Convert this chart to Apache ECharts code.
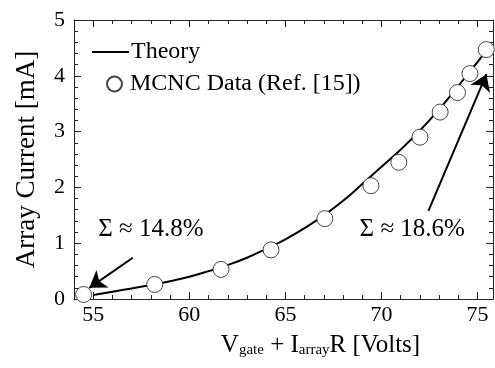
<!DOCTYPE html>
<html><head><meta charset="utf-8">
<script src="https://cdn.jsdelivr.net/npm/echarts@6/dist/echarts.min.js"></script>
<style>html,body{margin:0;padding:0;background:#fff}#c{width:495px;height:368px}</style>
</head><body><div id="c"></div>
<script>
// ---- data ----
const xTickLabels = [55, 60, 65, 70, 75];
const yTickLabels = [0, 1, 2, 3, 4, 5];
const mcncX = [54.5, 58.2, 61.65, 64.25, 67.05, 69.45, 70.9, 72.0, 73.05, 73.95, 74.6, 75.45];
const mcncY = [0.08, 0.26, 0.53, 0.88, 1.44, 2.03, 2.45, 2.90, 3.35, 3.70, 4.04, 4.47];
const theoryX = [55, 56, 57, 58, 59, 60, 61, 62, 63, 64, 65, 66, 67, 68, 69, 70, 71, 72, 73, 74, 75, 75.5];
const theoryY = [0.07, 0.13, 0.19, 0.25, 0.32, 0.40, 0.50, 0.61, 0.74, 0.90, 1.07, 1.27, 1.50, 1.76, 2.06, 2.37, 2.68, 3.02, 3.40, 3.82, 4.25, 4.47];
const noteLabels = ['Σ ≈ 14.8%', 'Σ ≈ 18.6%'];
const noteTextAt = [[58.0, 1.25], [71.6, 1.25]];
const arrowFrom = [[57.06, 0.74], [72.44, 1.58]];
const arrowTo = [[54.80, 0.20], [75.46, 4.03]];
const seriesNames = ['Theory', 'MCNC Data (Ref. [15])'];

const FONT = 'Liberation Serif';
const chart = echarts.init(document.getElementById('c'), null, {renderer: 'canvas'});
const X_MIN = 54, X_MAX = 75.8, Y_MIN = 0, Y_MAX = 5;
const axisCol = '#222';

function xAx(pos, major, showLabel) {
  return {
    type: 'value', position: pos, min: X_MIN, max: X_MAX,
    interval: 1,
    axisLine: {show: major, onZero: false, lineStyle: {color: axisCol, width: 1}},
    axisTick: major ? {show: true, inside: true, length: 7, customValues: xTickLabels, lineStyle: {color: axisCol}}
                    : {show: true, inside: true, length: 4, lineStyle: {color: axisCol}},
    axisLabel: showLabel ? {show: true, customValues: xTickLabels, color: '#000', fontFamily: FONT, fontSize: 22, margin: 5}
                         : {show: false},
    splitLine: {show: false}
  };
}
function yAx(pos, showLabel) {
  return {
    type: 'value', position: pos, min: Y_MIN, max: Y_MAX, interval: 1,
    axisLine: {show: true, onZero: false, lineStyle: {color: axisCol, width: 1}},
    axisTick: {show: true, inside: true, length: 7, lineStyle: {color: axisCol}},
    minorTick: {show: true, splitNumber: 5, length: 4, lineStyle: {color: axisCol}},
    axisLabel: showLabel ? {show: true, color: '#000', fontFamily: FONT, fontSize: 22, margin: 9} : {show: false},
    splitLine: {show: false}
  };
}

const xMain = xAx('bottom', true, true);
xMain.name = '{n|V}{s|gate}{n| + I}{s|array}{n|R [Volts]}';
xMain.nameLocation = 'middle';
xMain.nameGap = 33;
xMain.nameTextStyle = {
  color: '#000', fontFamily: FONT, padding: [0, 0, 0, 74],
  rich: {
    n: {fontFamily: FONT, fontSize: 25, color: '#000', lineHeight: 26, verticalAlign: 'bottom'},
    s: {fontFamily: FONT, fontSize: 15, color: '#000', lineHeight: 4, verticalAlign: 'bottom'}
  }
};
const yMain = yAx('left', true);
yMain.name = 'Array Current [mA]';
yMain.nameLocation = 'middle';
yMain.nameGap = 34;
yMain.nameTextStyle = {color: '#000', fontFamily: FONT, fontSize: 27, padding: [0, 0, 0, 0]};

const legendText = {fontFamily: FONT, fontSize: 24, color: '#000'};
const option = {
  animation: false,
  backgroundColor: '#fff',
  grid: {left: 74, right: 2, top: 20, bottom: 69, containLabel: false},
  xAxis: [xMain, xAx('bottom', false, false), xAx('top', true, false), xAx('top', false, false)],
  yAxis: [yMain, yAx('right', false)],
  legend: [
    {data: [{name: seriesNames[0], icon: 'path://M0,0H40V2.2H0Z'}], left: 92, top: 40, padding: 0, orient: 'vertical',
     itemWidth: 37, itemHeight: 14, itemGap: 0, selectedMode: false,
     textStyle: Object.assign({padding: [0, 0, 0, -3]}, legendText)},
    {data: [{name: seriesNames[1], icon: 'circle'}], left: 106, top: 72, padding: 0, orient: 'vertical',
     itemWidth: 15, itemHeight: 15, itemGap: 0, selectedMode: false,
     textStyle: Object.assign({padding: [0, 0, 0, 3]}, legendText)}
  ],
  series: [
    {
      name: seriesNames[0], type: 'line', xAxisIndex: 0, yAxisIndex: 0,
      data: theoryX.map((x, i) => [x, theoryY[i]]),
      smooth: true, showSymbol: false, symbol: 'none',
      lineStyle: {color: '#000', width: 2},
      itemStyle: {color: '#000'},
      z: 3,
      markLine: {
        silent: true, symbol: ['none', 'arrow'], symbolSize: 16,
        lineStyle: {color: '#000', width: 2, type: 'solid'},
        itemStyle: {color: '#000'},
        label: {show: false},
        emphasis: {disabled: true},
        data: arrowFrom.map((f, i) => [{coord: f}, {coord: arrowTo[i]}])
      },
      markPoint: {
        silent: true, symbol: 'circle', symbolSize: 0,
        label: {show: true, position: 'inside', formatter: p => p.name, color: '#000', fontFamily: FONT, fontSize: 25},
        data: noteLabels.map((t, i) => ({name: t, coord: noteTextAt[i]}))
      }
    },
    {
      name: seriesNames[1], type: 'scatter', xAxisIndex: 0, yAxisIndex: 0,
      data: mcncX.map((x, i) => [x, mcncY[i]]),
      symbol: 'circle', symbolSize: 16,
      itemStyle: {color: '#fff', borderColor: '#444', borderWidth: 1, opacity: 1},
      z: 4
    }
  ]
};
chart.setOption(option);
</script>
</body></html>
